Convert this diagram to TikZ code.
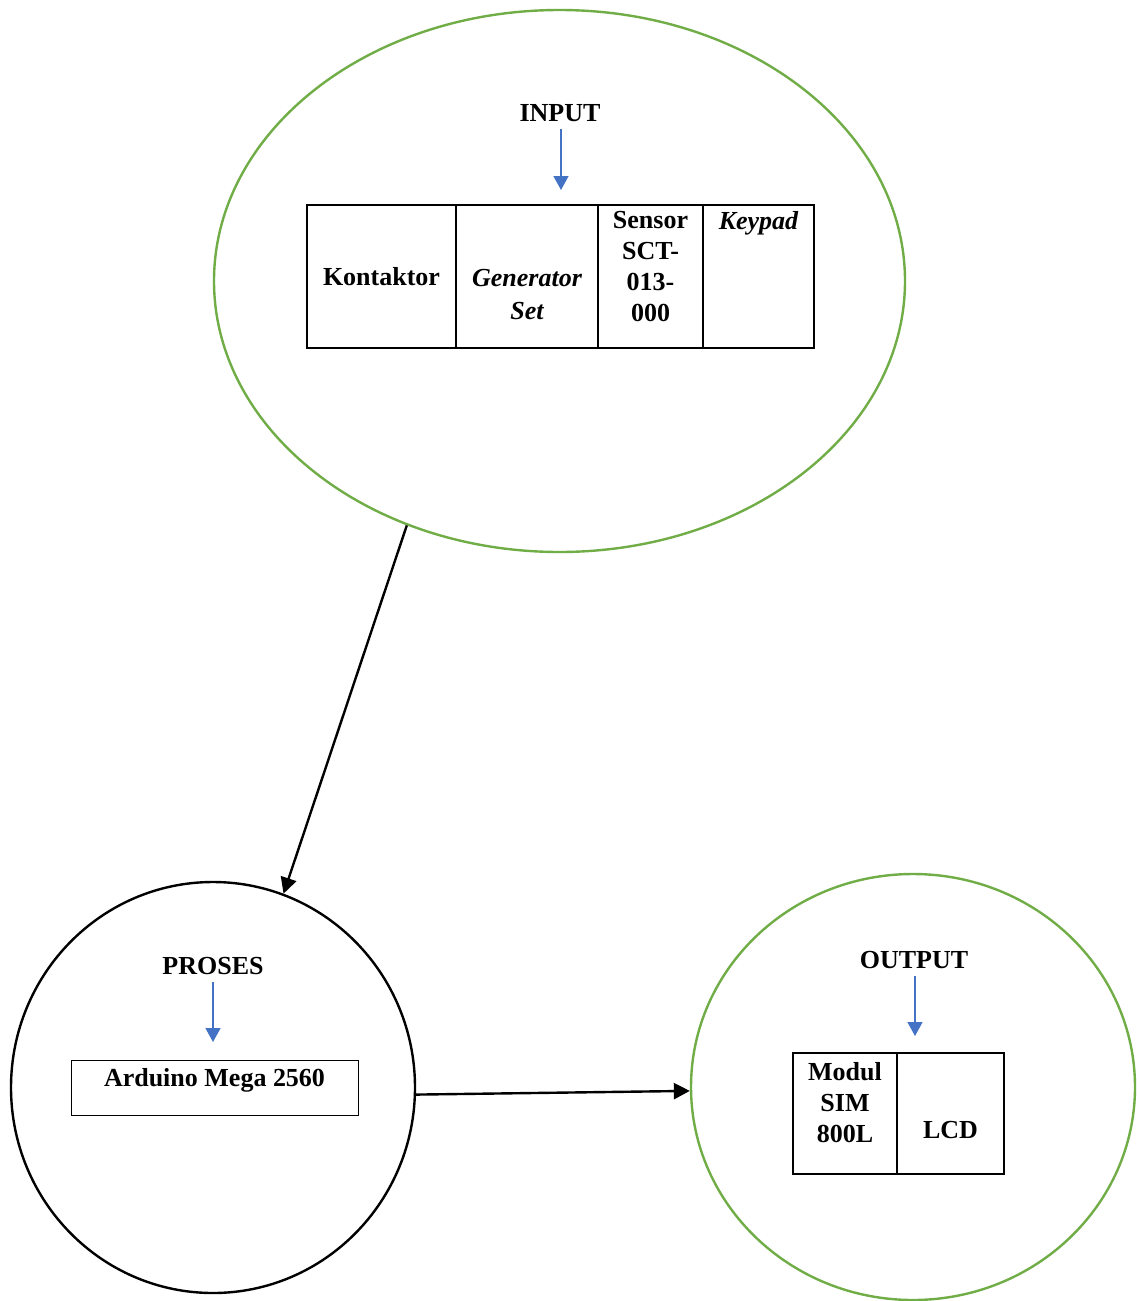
\documentclass[tikz,border=0pt]{standalone}
\usepackage{fontspec}
\setmainfont{Liberation Serif}
\usetikzlibrary{positioning,shapes.geometric,arrows.meta}
\definecolor{hijau}{RGB}{112,173,71}
\definecolor{biru}{RGB}{68,114,196}
\tikzset{
	lingkar/.style={ellipse, draw, line width=1.2pt, inner sep=0pt},
	sel/.style={draw, line width=1pt, outer sep=0pt, inner sep=0pt},
	judul/.style={font=\fontsize{13}{15.5}\selectfont\bfseries},
	isi/.style={font=\fontsize{13}{15.5}\selectfont\bfseries, align=center, inner sep=0pt},
	turun/.style={draw=biru, line width=0.75pt, -{Triangle[length=7pt,width=7.5pt]}},
	panah/.style={line width=1.2pt, -{Triangle[length=8pt,width=8pt]}}
}
\begin{document}
\begin{tikzpicture}[x=0.5pt,y=-0.5pt]
	\useasboundingbox (0,0) rectangle (1136,1301);
	\node[lingkar, draw=hijau, minimum width=345.5pt, minimum height=271pt] (inp) at (559.5,281) {};
	\node[lingkar, draw=black, minimum width=202pt, minimum height=205.5pt] (pro) at (213,1087.5) {};
	\node[lingkar, draw=hijau, minimum width=222pt, minimum height=213pt] (out) at (913,1087) {};

	\node[judul] (inlbl) at (560,113) {INPUT};
	\coordinate (inujung) at (561,190);
	\draw[turun] (inlbl.south -| inujung) -- (inujung);
	\node[sel, isi, minimum width=74.5pt, minimum height=71.5pt] (kon) at (381.5,276.5) {Kontaktor};
	\node[sel, minimum width=71pt, minimum height=71.5pt, right=0pt of kon] (gen) {};
	\node[sel, minimum width=52.5pt, minimum height=71.5pt, right=0pt of gen] (sen) {};
	\node[sel, minimum width=55.5pt, minimum height=71.5pt, right=0pt of sen] (key) {};
	\node[isi, below=32pt of gen.north] (gentxt) {\itshape Generator\\[1pt]\itshape Set};
	\node[isi, below=3pt of sen.north] (sentxt) {Sensor\\SCT-\\013-\\000};
	\node[isi, below=3pt of key.north] (keytxt) {\itshape Keypad};

	\node[judul] (prolbl) at (213,966) {PROSES};
	\coordinate (proujung) at (213,1042);
	\draw[turun] (prolbl.south -| proujung) -- (proujung);
	\node[sel, line width=0.5pt, minimum width=143.5pt, minimum height=27.5pt] (ard) at (214.5,1087.5) {};
	\node[isi, below=4pt of ard.north] (ardtxt) {Arduino Mega 2560};

	\node[judul] (outlbl) at (914,960) {OUTPUT};
	\coordinate (outujung) at (915,1036);
	\draw[turun] (outlbl.south -| outujung) -- (outujung);
	\node[sel, line width=0.6pt, minimum width=52pt, minimum height=60.5pt] (sim) at (845,1113.5) {};
	\node[sel, line width=0.6pt, minimum width=53.5pt, minimum height=60.5pt, right=0pt of sim] (lcd) {};
	\node[isi, below=4.5pt of sim.north] (simtxt) {Modul\\SIM\\800L};
	\node[isi, below=34pt of lcd.north] (lcdtxt) {LCD};

	\draw[panah] (inp.238) -- (pro.70);
	\draw[panah] (pro.-2) -- (out.181.3);
\end{tikzpicture}
\end{document}
